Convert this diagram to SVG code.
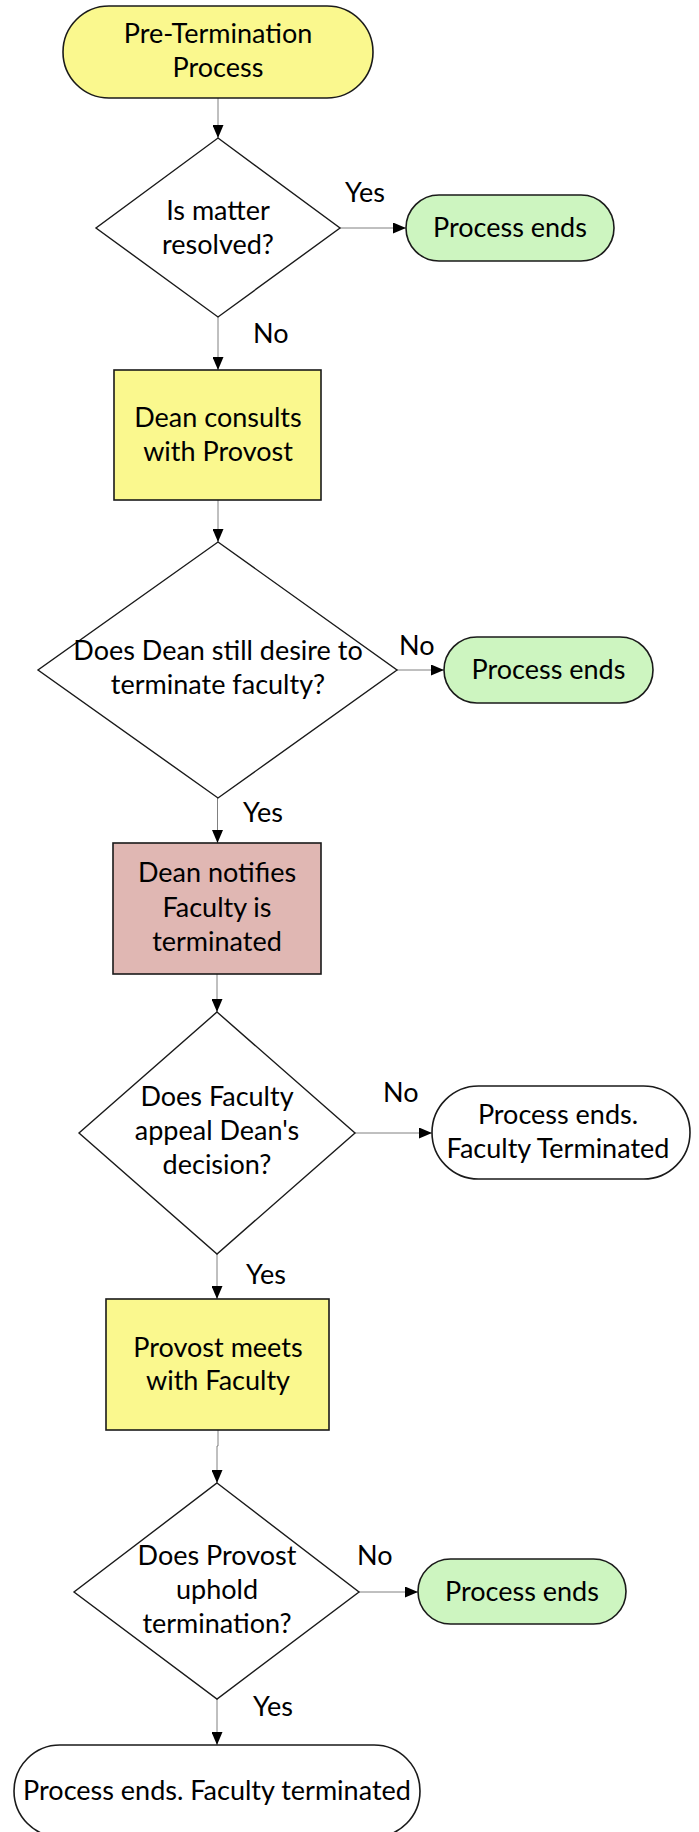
<svg xmlns="http://www.w3.org/2000/svg" width="699" height="1832" viewBox="0 0 699 1832">
<style>
text{font-family:Lato,"Liberation Sans",sans-serif;font-size:27px;fill:#000;text-anchor:middle}
.lbl{text-anchor:start}
.term{stroke:#1a1a1a;stroke-width:1.6}
.box{stroke:#1a1a1a;stroke-width:1.6}
.dia{fill:#fff;stroke:#1a1a1a;stroke-width:1.4}
.yel{fill:#FAF88E}
.grn{fill:#CDF5C0}
.pnk{fill:#E0B7B3}
.wht{fill:#fff}
.conn{fill:none;stroke:#808080;stroke-width:1;marker-end:url(#arr)}
</style>
<defs>
<marker id="arr" markerUnits="userSpaceOnUse" markerWidth="13" markerHeight="11" refX="13" refY="5.5" orient="auto">
<path d="M0,0 L13,5.5 L0,11 z" fill="#000"/>
</marker>
</defs>
<rect width="699" height="1832" fill="#fff"/>
<g id="connectors">
<path class="conn" d="M218,98 L218,138"/>
<path class="conn" d="M340,228 L406,228"/>
<path class="conn" d="M218,317 L218,370"/>
<path class="conn" d="M218,500 L218,542"/>
<path class="conn" d="M397,670 L444,670"/>
<path class="conn" d="M217.5,798 L217.5,843"/>
<path class="conn" d="M217,974 L217,1012"/>
<path class="conn" d="M355,1133 L432,1133"/>
<path class="conn" d="M217,1254 L217,1299"/>
<path class="conn" d="M218,1430 L218,1446 L217,1446 L217,1483"/>
<path class="conn" d="M359,1592 L418,1592"/>
<path class="conn" d="M217,1699 L217,1745"/>
<text class="lbl" x="345" y="202">Yes</text>
<text class="lbl" x="253" y="343">No</text>
<text class="lbl" x="399" y="655">No</text>
<text class="lbl" x="243" y="822">Yes</text>
<text class="lbl" x="383" y="1102">No</text>
<text class="lbl" x="246" y="1284">Yes</text>
<text class="lbl" x="357" y="1565">No</text>
<text class="lbl" x="253" y="1716">Yes</text>
</g>
<g id="start">
<rect class="term yel" x="63" y="6" width="310" height="92" rx="46"/>
<text x="218" y="43">Pre-Termination</text>
<text x="218" y="77">Process</text>
</g>
<g id="d1">
<polygon class="dia" points="218,138 340,228 218,317 96,228"/>
<text x="218" y="220">Is matter</text>
<text x="218" y="254">resolved?</text>
</g>
<g id="end1">
<rect class="term grn" x="406" y="195" width="208" height="66" rx="33"/>
<text x="510" y="237">Process ends</text>
</g>
<g id="p1">
<rect class="box yel" x="114" y="370" width="207" height="130"/>
<text x="218" y="427">Dean consults</text>
<text x="218" y="461">with Provost</text>
</g>
<g id="d2">
<polygon class="dia" points="218,542 397,670 218,798 38,670"/>
<text x="218" y="660">Does Dean still desire to</text>
<text x="218" y="694">terminate faculty?</text>
</g>
<g id="end2">
<rect class="term grn" x="444" y="637" width="209" height="66" rx="33"/>
<text x="548.5" y="679">Process ends</text>
</g>
<g id="p2">
<rect class="box pnk" x="113" y="843" width="208" height="131"/>
<text x="217" y="882">Dean notifies</text>
<text x="217" y="917">Faculty is</text>
<text x="217" y="951">terminated</text>
</g>
<g id="d3">
<polygon class="dia" points="217,1012 355,1133 217,1254 79,1133"/>
<text x="217" y="1106">Does Faculty</text>
<text x="217" y="1140">appeal Dean's</text>
<text x="217" y="1174">decision?</text>
</g>
<g id="end3">
<rect class="term wht" x="432" y="1086" width="258" height="93" rx="46.5"/>
<text x="558" y="1124">Process ends.</text>
<text x="558" y="1158">Faculty Terminated</text>
</g>
<g id="p3">
<rect class="box yel" x="106" y="1299" width="223" height="131"/>
<text x="218" y="1357">Provost meets</text>
<text x="218" y="1390">with Faculty</text>
</g>
<g id="d4">
<polygon class="dia" points="217,1483 359,1592 217,1699 74,1592"/>
<text x="217" y="1565">Does Provost</text>
<text x="217" y="1599">uphold</text>
<text x="217" y="1633">termination?</text>
</g>
<g id="end4">
<rect class="term grn" x="418" y="1559" width="208" height="65" rx="32.5"/>
<text x="522" y="1601">Process ends</text>
</g>
<g id="end5">
<rect class="term wht" x="14" y="1745" width="406" height="92" rx="46"/>
<text x="217" y="1800">Process ends. Faculty terminated</text>
</g>
</svg>
